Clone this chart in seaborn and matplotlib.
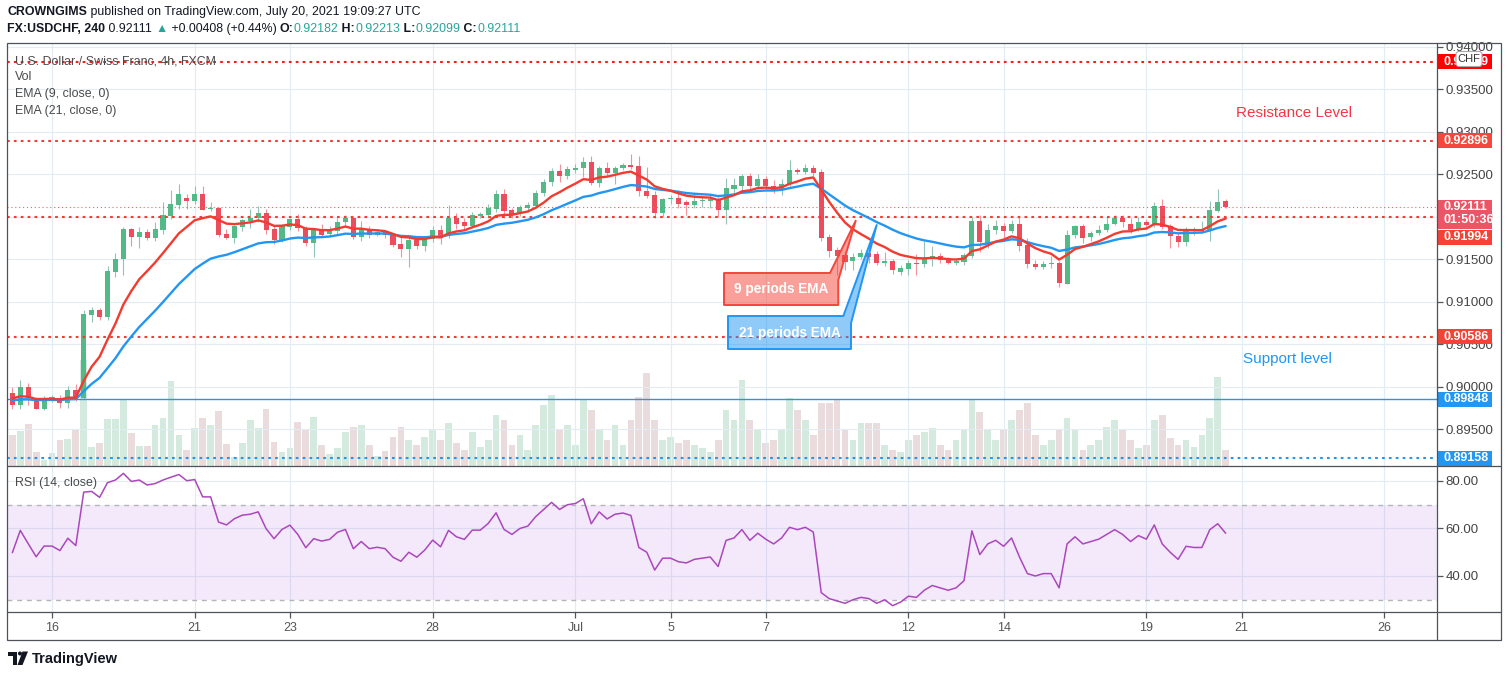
import numpy as np
import pandas as pd
import matplotlib
matplotlib.use("Agg")
import matplotlib.pyplot as plt
import matplotlib.transforms as mtransforms
from matplotlib.patches import Rectangle, Polygon, Circle, FancyBboxPatch
import seaborn as sns

# 4h USD/CHF bars; bar 0 = first bar of Jun 16, 6 bars per trading day
first_bar = -5
opens = [.8993, .8978, .8999, .8986, .8974, .8986, .8986, .8981, .8996, .8987,
         .9084, .9090, .9082, .9135, .9150, .9186, .9176, .9182, .9175, .9184,
         .9201, .9214, .9222, .9219, .9227, .9209, .9210, .9180, .9175, .9188,
         .9195, .9198, .9205, .9186, .9173, .9188, .9197, .9187, .9169, .9184,
         .9180, .9183, .9194, .9198, .9176, .9186, .9179, .9182, .9179, .9168,
         .9162, .9173, .9166, .9174, .9185, .9177, .9199, .9194, .9189, .9201,
         .9202, .9209, .9227, .9208, .9204, .9210, .9213, .9228, .9241, .9254,
         .9248, .9255, .9257, .9265, .9240, .9258, .9251, .9258, .9261, .9260,
         .9230, .9226, .9204, .9221, .9222, .9217, .9214, .9218, .9219, .9221,
         .9208, .9233, .9236, .9248, .9236, .9245, .9236, .9231, .9239, .9255,
         .9253, .9258, .9253, .9176, .9161, .9155, .9148, .9153, .9157, .9156,
         .9145, .9148, .9135, .9139, .9145, .9144, .9150, .9154, .9150, .9146,
         .9147, .9154, .9195, .9169, .9184, .9189, .9183, .9192, .9167, .9144,
         .9141, .9144, .9145, .9121, .9178, .9189, .9176, .9181, .9184, .9191,
         .9198, .9192, .9184, .9194, .9190, .9213, .9189, .9177, .9170, .9184,
         .9183, .9183, .9207, .9218]
highs = [.9000, .9008, .9004, .8988, .8989, .8990, .8990, .9001, .9003, .9090,
         .9094, .9093, .9142, .9157, .9188, .9187, .9188, .9186, .9194, .9217,
         .9232, .9239, .9227, .9236, .9236, .9217, .9212, .9186, .9190, .9197,
         .9209, .9213, .9209, .9189, .9192, .9199, .9203, .9189, .9186, .9191,
         .9189, .9199, .9202, .9200, .9195, .9189, .9186, .9184, .9181, .9177,
         .9178, .9176, .9177, .9189, .9190, .9214, .9205, .9199, .9206, .9206,
         .9215, .9232, .9233, .9210, .9214, .9217, .9231, .9245, .9257, .9262,
         .9260, .9262, .9271, .9272, .9260, .9265, .9260, .9263, .9274, .9272,
         .9259, .9230, .9222, .9226, .9232, .9220, .9228, .9223, .9226, .9223,
         .9246, .9246, .9250, .9252, .9250, .9248, .9243, .9245, .9267, .9258,
         .9262, .9261, .9256, .9180, .9164, .9160, .9157, .9162, .9170, .9160,
         .9158, .9150, .9143, .9149, .9156, .9171, .9166, .9157, .9153, .9150,
         .9157, .9200, .9202, .9191, .9196, .9193, .9196, .9200, .9175, .9149,
         .9148, .9154, .9148, .9184, .9190, .9192, .9183, .9190, .9201, .9202,
         .9202, .9198, .9200, .9197, .9217, .9221, .9191, .9181, .9188, .9188,
         .9195, .9219, .9233, .9221]
lows = [.8973, .8973, .8978, .8973, .8972, .8982, .8975, .8975, .8983, .8985,
        .9076, .9078, .9078, .9129, .9131, .9165, .9163, .9173, .9172, .9180,
        .9197, .9209, .9209, .9215, .9208, .9207, .9176, .9174, .9169, .9183,
        .9187, .9194, .9180, .9168, .9170, .9185, .9183, .9166, .9153, .9177,
        .9176, .9180, .9190, .9174, .9172, .9175, .9177, .9175, .9164, .9153,
        .9141, .9162, .9160, .9170, .9168, .9175, .9186, .9186, .9187, .9198,
        .9199, .9206, .9198, .9198, .9201, .9206, .9210, .9225, .9236, .9241,
        .9244, .9252, .9247, .9238, .9235, .9248, .9239, .9255, .9256, .9224,
        .9222, .9199, .9200, .9215, .9210, .9202, .9210, .9212, .9210, .9200,
        .9192, .9228, .9232, .9230, .9233, .9232, .9228, .9226, .9236, .9250,
        .9250, .9248, .9172, .9153, .9131, .9137, .9137, .9150, .9145, .9143,
        .9142, .9133, .9132, .9132, .9131, .9141, .9142, .9146, .9144, .9143,
        .9143, .9152, .9158, .9163, .9180, .9172, .9181, .9160, .9140, .9138,
        .9138, .9140, .9117, .9121, .9175, .9169, .9171, .9178, .9182, .9190,
        .9188, .9181, .9183, .9186, .9188, .9186, .9163, .9164, .9166, .9178,
        .9181, .9172, .9206, .9210]
closes = [.8978, .8999, .8986, .8974, .8986, .8986, .8981, .8996, .8987, .9086,
          .9090, .9082, .9136, .9150, .9186, .9176, .9182, .9175, .9186, .9202,
          .9215, .9227, .9219, .9227, .9208, .9209, .9179, .9175, .9189, .9196,
          .9198, .9205, .9184, .9173, .9190, .9197, .9187, .9169, .9184, .9179,
          .9184, .9194, .9198, .9176, .9186, .9179, .9182, .9179, .9167, .9162,
          .9173, .9166, .9174, .9185, .9175, .9199, .9192, .9189, .9202, .9203,
          .9210, .9227, .9207, .9203, .9212, .9214, .9228, .9241, .9254, .9248,
          .9256, .9258, .9265, .9240, .9258, .9251, .9258, .9261, .9259, .9230,
          .9225, .9204, .9221, .9222, .9215, .9214, .9219, .9220, .9221, .9208,
          .9234, .9237, .9248, .9236, .9245, .9236, .9231, .9239, .9255, .9253,
          .9258, .9252, .9175, .9160, .9154, .9147, .9153, .9157, .9153, .9145,
          .9148, .9137, .9140, .9145, .9144, .9150, .9154, .9149, .9146, .9148,
          .9155, .9195, .9170, .9184, .9189, .9183, .9192, .9166, .9144, .9141,
          .9144, .9145, .9122, .9178, .9189, .9175, .9181, .9184, .9192, .9198,
          .9194, .9184, .9194, .9190, .9213, .9188, .9177, .9170, .9184, .9184,
          .9184, .9208, .9217, .9211]
volumes = [31, 35, 42, 14, 6, 13, 26, 27, 36, 106,
           19, 23, 47, 47, 66, 33, 20, 20, 41, 48,
           85, 31, 16, 38, 48, 41, 55, 22, 9, 23,
           46, 38, 57, 24, 14, 18, 44, 37, 49, 21,
           12, 18, 34, 39, 41, 21, 10, 15, 29, 39,
           26, 21, 29, 36, 26, 43, 23, 16, 34, 19,
           26, 51, 46, 21, 31, 16, 41, 61, 71, 36,
           41, 21, 66, 56, 36, 26, 41, 21, 46, 69,
           93, 46, 26, 29, 23, 26, 21, 18, 14, 26,
           56, 46, 86, 46, 36, 23, 26, 36, 68, 56,
           46, 31, 63, 63, 66, 36, 26, 43, 43, 43,
           21, 16, 14, 26, 31, 34, 38, 21, 16, 26,
           36, 66, 54, 36, 26, 36, 46, 56, 63, 31,
           21, 26, 36, 48, 36, 16, 21, 26, 39, 46,
           36, 26, 18, 21, 46, 51, 28, 21, 26, 19,
           31, 48, 89, 16]
rsi = [49.8, 59.2, 53.6, 48.1, 52.6, 52.6, 50.7, 55.9, 52.8, 75.3,
       75.6, 73.1, 79.3, 80.4, 83.2, 79.8, 80.4, 78.3, 78.9, 80.4,
       81.6, 82.7, 80.1, 80.6, 73.3, 73.3, 62.7, 61.5, 64.1, 65.6,
       66.0, 67.0, 59.9, 55.7, 59.6, 61.4, 57.5, 51.9, 55.7, 54.7,
       55.4, 58.4, 59.6, 51.5, 54.5, 51.5, 52.1, 51.5, 47.9, 46.2,
       50.0, 47.9, 50.9, 55.1, 52.3, 59.2, 56.5, 55.4, 59.3, 59.3,
       62.1, 66.6, 59.6, 57.5, 60.0, 61.0, 65.0, 68.0, 71.0, 68.0,
       70.0, 70.5, 72.5, 62.0, 67.0, 64.0, 66.0, 66.5, 65.5, 52.0,
       50.0, 42.5, 47.5, 47.5, 46.0, 45.5, 47.0, 47.5, 48.0, 44.0,
       55.0, 56.0, 59.5, 55.0, 58.0, 55.5, 53.5, 56.0, 60.5, 59.5,
       60.5, 58.5, 33.0, 30.5, 29.5, 28.5, 30.0, 31.0, 30.5, 28.5,
       30.0, 27.5, 29.0, 31.5, 31.0, 34.0, 36.0, 35.0, 34.0, 35.0,
       38.0, 59.0, 49.0, 53.5, 55.0, 52.5, 56.0, 48.0, 41.0, 40.0,
       41.0, 41.0, 35.0, 53.5, 56.5, 53.5, 54.5, 55.5, 57.5, 59.5,
       57.5, 54.5, 57.0, 55.5, 61.5, 53.5, 50.0, 47.0, 52.5, 52.0,
       52.0, 59.5, 62.0, 58.0]

# EMA values carried in from before the first visible bar
ema_seed_fast = 0.8988
ema_seed_slow = 0.8984

day_ticks = [0, 18, 30, 48, 66, 78, 90, 108, 120, 138, 150, 168]
day_labels = ["16", "21", "23", "28", "Jul", "5", "7", "12", "14", "19", "21", "26"]
price_ticks = [0.895, 0.900, 0.905, 0.910, 0.915, 0.920, 0.925, 0.930, 0.935, 0.940]
rsi_ticks = [40, 60, 80]

level_top = 0.93829
level_resistance = 0.92896
level_mid = 0.91994
level_support = 0.90586
level_low = 0.89848
level_bottom = 0.89158
last_price = 0.92111
countdown = "01:50:36"


def ema(values, span, seed):
    s = pd.Series([seed] + list(values))
    return s.ewm(span=span, adjust=False).mean().iloc[1:].to_numpy()


df = pd.DataFrame({"open": opens, "high": highs, "low": lows, "close": closes,
                   "volume": volumes, "rsi": rsi})
df["bar"] = np.arange(first_bar, first_bar + len(df))
df["ema9"] = ema(df["close"], 9, ema_seed_fast)
df["ema21"] = ema(df["close"], 21, ema_seed_slow)

UP, DOWN = "#53b987", "#eb4d5c"
GRID = "#e3ecf2"
TXT = "#4a4a4a"

sns.set_theme(style="white")
plt.rcParams["font.family"] = ["Liberation Sans", "DejaVu Sans"]

W, H = 1508, 677
fig = plt.figure(figsize=(W / 100, H / 100), dpi=100)


def frac(x0, y0, x1, y1):
    return [x0 / W, 1 - y1 / H, (x1 - x0) / W, (y1 - y0) / H]


ax_vol = fig.add_axes(frac(7, 43, 1437, 466))
ax = fig.add_axes(frac(7, 43, 1437, 466), sharex=ax_vol)
ax_rsi = fig.add_axes(frac(7, 466, 1437, 612), sharex=ax_vol)
ax.patch.set_visible(False)

x_left, x_right = -5.675, 174.65
p_bottom, p_top = 0.890642, 0.940471

# volume
up = (df["close"] >= df["open"]).to_numpy()
ax_vol.bar(df["bar"], df["volume"], width=0.85,
           color=np.where(up, "#41a069", "#a05f64"), alpha=0.22, lw=0)
ax_vol.set_ylim(0, 423)

# grid
for p in price_ticks:
    ax.axhline(p, color=GRID, lw=0.8, zorder=0)
for t in day_ticks:
    ax.axvline(t, color=GRID, lw=0.8, zorder=0)
    ax_rsi.axvline(t, color=GRID, lw=0.8, zorder=0)
for r in rsi_ticks:
    ax_rsi.axhline(r, color=GRID, lw=0.8, zorder=0)

# candles
ax.vlines(df["bar"], df["low"], df["high"], colors=np.where(up, "#93c3b8", "#f2939c"),
          lw=0.8, zorder=3)
body_h = np.maximum((df["close"] - df["open"]).abs(), 0.00012)
ax.bar(df["bar"], body_h, bottom=np.minimum(df["open"], df["close"]), width=0.64,
       color=np.where(up, UP, DOWN), lw=0, zorder=3.5)

# moving averages
sns.lineplot(data=df, x="bar", y="ema21", ax=ax, color="#2196f3", lw=1.7, zorder=5)
sns.lineplot(data=df, x="bar", y="ema9", ax=ax, color="#f23b30", lw=1.7, zorder=5.1)

# horizontal levels
dots = (0, (1.3, 2.0))
ax.axhline(level_top, color="#ff1a1a", lw=1.5, ls=dots, zorder=4)
ax.axhline(level_resistance, color="#f23c3c", lw=1.5, ls=dots, zorder=4)
ax.axhline(level_mid, color="#f23c3c", lw=1.5, ls=dots, zorder=4)
ax.axhline(level_support, color="#f23c3c", lw=1.5, ls=dots, zorder=4)
ax.axhline(last_price, color="#f0606e", lw=0.8, ls=(0, (1, 2.5)), zorder=4)
ax.axhline(level_low, color="#2196f3", lw=1.0, zorder=4)
ax.axhline(level_bottom, color="#2196f3", lw=1.5, ls=dots, zorder=4)

ax.set_xlim(x_left, x_right)
ax.set_ylim(p_bottom, p_top)

# RSI pane
ax_rsi.axhspan(30, 70, color="#b06ee8", alpha=0.15, lw=0, zorder=1)
ax_rsi.axhline(70, color="#b4b4bb", lw=1.0, ls=(0, (3.5, 3.5)), zorder=2)
ax_rsi.axhline(30, color="#b4b4bb", lw=1.0, ls=(0, (3.5, 3.5)), zorder=2)
sns.lineplot(data=df, x="bar", y="rsi", ax=ax_rsi, color="#ab47bc", lw=1.1, zorder=3)
ax_rsi.set_ylim(24.84, 86.3)

for a in (ax_vol, ax, ax_rsi):
    for s in a.spines.values():
        s.set_visible(False)
    a.set_xlabel("")
    a.set_ylabel("")
ax_vol.set_yticks([])
ax_vol.tick_params(bottom=False, labelbottom=False, left=False, labelleft=False)

ax.yaxis.tick_right()
ax.set_yticks(price_ticks, labels=[f"{p:.5f}" for p in price_ticks])
ax.tick_params(axis="y", length=4, width=0.9, color="#555555", labelcolor="#444444",
               labelsize=9.5, pad=2)
ax.tick_params(axis="x", bottom=False, labelbottom=False)

ax_rsi.yaxis.tick_right()
ax_rsi.set_yticks(rsi_ticks, labels=[f"{r:.2f}" for r in rsi_ticks])
ax_rsi.tick_params(axis="y", length=4, width=0.9, color="#555555", labelcolor="#444444",
                   labelsize=9.5, pad=2)
ax_rsi.set_xticks(day_ticks, labels=day_labels)
ax_rsi.tick_params(axis="x", bottom=True, length=4, width=0.9, color="#555555",
                   labelcolor="#555555", labelsize=9, pad=3)
ax_rsi.set_xlim(x_left, x_right)

# price tags on the scale
blend = mtransforms.blended_transform_factory(ax.transAxes, ax.transData)
px_per_price = 423 / (p_top - p_bottom)


def price_tag(price, lines, color, shift=0, box_shift=0, h_px=15, w_px=55, z=20, step=13):
    h = h_px / px_per_price
    tr_box = mtransforms.offset_copy(blend, fig=fig, y=-(shift + box_shift), units="dots")
    ax.add_patch(Rectangle((1.0, price - h / 2), w_px / 1430, h, transform=tr_box,
                           fc=color, ec="none", clip_on=False, zorder=z))
    for i, line in enumerate(lines):
        tr = mtransforms.offset_copy(blend, fig=fig, y=-(shift + step * i), units="dots")
        ax.text(1.0 + 6 / 1430, price, line, transform=tr, color="white", fontsize=9,
                fontweight="bold", va="center", ha="left", clip_on=False, zorder=z + 0.5)


price_tag(level_top, ["0.93829"], "#ff0000")
price_tag(level_resistance, ["0.92896"], "#f5473b")
price_tag(level_mid, ["0.91994"], "#f44336", shift=20)
price_tag(level_support, ["0.90586"], "#f44336")
price_tag(last_price, [f"{last_price:.5f}", countdown], "#ec5566", box_shift=7, h_px=29, z=22)
price_tag(level_low, [f"{level_low:.5f}"], "#2196f3")
price_tag(level_bottom, [f"{level_bottom:.5f}"], "#2196f3")

# pixel overlay: frame, header, notes, callouts, logo
ov = fig.add_axes([0, 0, 1, 1], zorder=10)
ov.set_xlim(0, W)
ov.set_ylim(H, 0)
ov.axis("off")
ov.patch.set_visible(False)

FRAME = "#4f525a"
ov.add_patch(Rectangle((7, 43), 1494, 597, fill=False, ec=FRAME, lw=0.9))
ov.plot([7, 1501], [466, 466], color=FRAME, lw=0.9)
ov.plot([7, 1501], [612, 612], color=FRAME, lw=0.9)
ov.plot([1437, 1437], [43, 640], color=FRAME, lw=0.9)

ov.add_patch(FancyBboxPatch((1456, 51.5), 26, 15, boxstyle="round,pad=0,rounding_size=3",
                            fc="white", ec="#a8a8a8", lw=0.8))
ov.text(1469, 59, "CHF", fontsize=8, color="#333333", ha="center", va="center")


def write_row(x, y, parts, size):
    t = ov.text(x, y, parts[0][0], color=parts[0][1], fontweight=parts[0][2],
                fontsize=size, va="center", ha="left")
    for text, color, weight in parts[1:]:
        t = ov.annotate(text, xy=(1, 0), xycoords=t, va="bottom", ha="left",
                        color=color, fontweight=weight, fontsize=size)


TEAL = "#26a69a"
DARK = "#131722"
write_row(7, 12, [("CROWNGIMS", DARK, "bold"),
                  (" published on TradingView.com, July 20, 2021 19:09:27 UTC", DARK, "normal")], 8.9)
write_row(7, 29, [("FX:USDCHF, 240", DARK, "bold"), (" 0.92111 ", DARK, "normal"),
                  ("\u25b2", TEAL, "normal"), (" +0.00408 (+0.44%) ", DARK, "normal"),
                  ("O:", DARK, "bold"), ("0.92182", TEAL, "normal"),
                  (" H:", DARK, "bold"), ("0.92213", TEAL, "normal"),
                  (" L:", DARK, "bold"), ("0.92099", TEAL, "normal"),
                  (" C:", DARK, "bold"), ("0.92111", TEAL, "normal")], 8.9)

ov.text(15, 61, "U.S. Dollar / Swiss Franc, 4h, FXCM", fontsize=8.9, color=TXT, va="center")
ov.text(15, 77.5, "Vol", fontsize=8.9, color=TXT, va="center")
ov.text(15, 94.5, "EMA (9, close, 0)", fontsize=8.9, color=TXT, va="center")
ov.text(15, 111, "EMA (21, close, 0)", fontsize=8.9, color=TXT, va="center")
ov.text(15, 483, "RSI (14, close)", fontsize=8.9, color=TXT, va="center")

ov.text(1236, 113, "Resistance Level", fontsize=11, color="#f23645", va="center")
ov.text(1243, 359, "Support level", fontsize=11, color="#2196f3", va="center")

ov.add_patch(Polygon([(724, 273), (830, 273), (855.7, 220.7), (838.3, 280), (838.3, 305), (724, 305)],
                     closed=True, fc=(0.957, 0.263, 0.212, 0.5), ec="#f3463d", lw=1.4, joinstyle="round"))
ov.text(781, 289.5, "9 periods EMA", fontsize=9.8, fontweight="bold", color="white",
        ha="center", va="center")
ov.add_patch(Polygon([(728, 316), (843.3, 316), (876.7, 225), (851, 323.3), (851, 349), (728, 349)],
                     closed=True, fc=(0.129, 0.588, 0.953, 0.5), ec="#2196f3", lw=1.4, joinstyle="round"))
ov.text(789.5, 332.5, "21 periods EMA", fontsize=9.8, fontweight="bold", color="white",
        ha="center", va="center")

LOGO = "#131722"
ov.add_patch(Rectangle((8, 651.5), 9, 4, fc=LOGO, ec="none"))
ov.add_patch(Rectangle((13, 651.5), 4, 13.5, fc=LOGO, ec="none"))
ov.add_patch(Circle((20, 653.5), 2, fc=LOGO, ec="none"))
ov.add_patch(Polygon([(22.5, 651.5), (28, 651.5), (22.5, 665), (17.5, 665)], fc=LOGO, ec="none"))
ov.text(32, 658.5, "TradingView", fontsize=10.5, fontweight="bold", color=LOGO, va="center")

fig.savefig("out.png", dpi=100)
